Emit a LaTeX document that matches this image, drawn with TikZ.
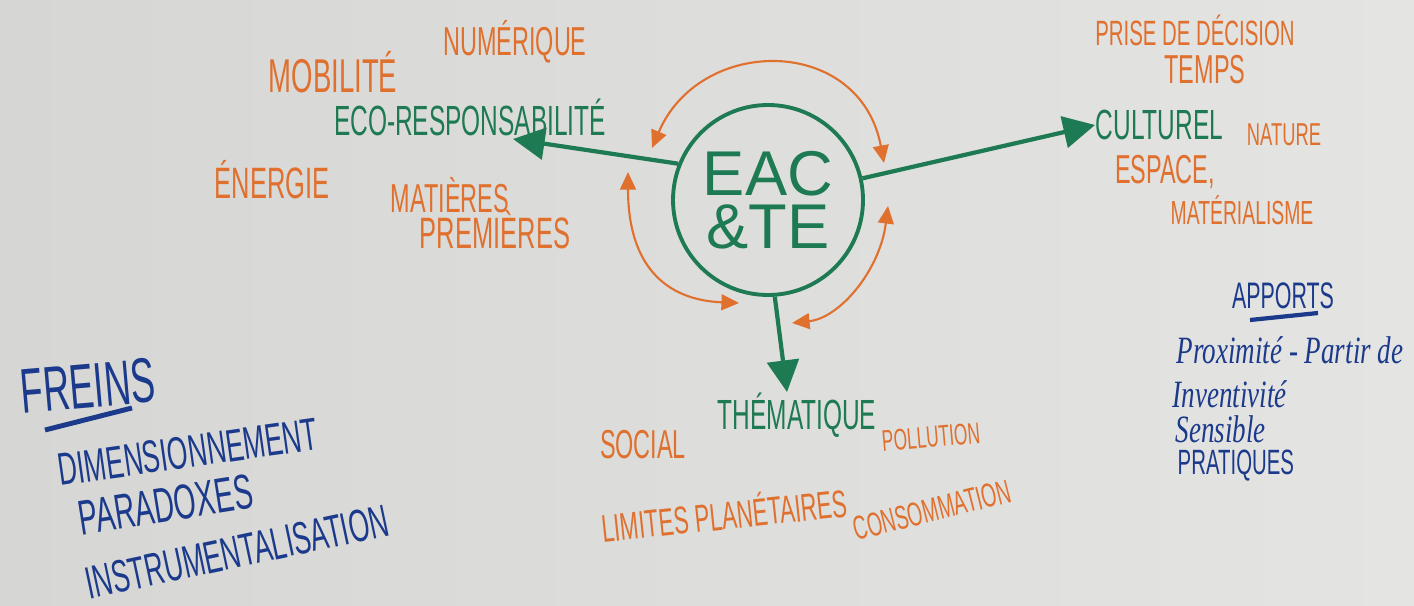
\documentclass[tikz,border=0pt]{standalone}
\usepackage{fontspec}
\setmainfont{Liberation Sans}
\newfontfamily\handfont[FakeStretch=0.58]{Liberation Sans}
\newfontfamily\inkfont[FakeStretch=0.7]{Liberation Serif}
\usetikzlibrary{arrows.meta,positioning,calc}

\definecolor{boardL}{HTML}{D6D6D5}
\definecolor{boardR}{HTML}{E4E4E3}
\definecolor{mgreen}{HTML}{1E7A52}
\definecolor{morange}{HTML}{E0702E}
\definecolor{mblue}{HTML}{1C3A8C}

\tikzset{
  hub/.style={circle, draw=mgreen, line width=1.1pt, minimum size=19mm, align=center,
    text=mgreen, font=\fontsize{18}{15}\selectfont},
  branch/.style={font=\handfont\fontsize{12}{12}\selectfont, text=mgreen},
  topic/.style={font=\handfont\fontsize{11.5}{12}\selectfont, text=morange},
  brake/.style={font=\handfont\fontsize{13}{12}\selectfont, text=mblue},
  gain/.style={font=\inkfont\itshape\fontsize{11}{12}\selectfont, text=mblue},
  fs/.style={font=\handfont\fontsize{#1}{12}\selectfont},
  spoke/.style={draw=mgreen, line width=1.2pt, -{Triangle[length=9pt,width=9pt]}},
  backarc/.style={draw=morange, line width=0.6pt,
    {Triangle[length=5pt,width=4.5pt]}-{Triangle[length=5pt,width=4.5pt]}},
}

\begin{document}
\begin{tikzpicture}[x=0.1mm,y=-0.1mm]
\tikzstyle{every node}+=[inner sep=0pt]
\shade[left color=boardL, right color=boardR] (0,0) rectangle (1414,606);
\useasboundingbox (0,0) rectangle (1414,606);

\node[hub] (eac) at (768,200) {EAC\\\&TE};

\node[branch] (eco) at (470,117) {ECO-RESPONSABILITÉ};
\node[branch, anchor=west] (cult) at (1095,125) {CULTUREL};
\node[branch] (them) at (797,415) {THÉMATIQUE};

\node[topic, fs=13.5] (mob) at (333,72) {MOBILITÉ};
\node[topic] (num) at (515,42) {NUMÉRIQUE};
\node[topic, fs=12.5] (ener) at (272,180) {ÉNERGIE};
\node[topic] (mat) at (450,195) {MATIÈRES};
\node[topic, fs=12.5] (prem) at (495,230) {PREMIÈRES};

\node[topic, fs=10] (prise) at (1195,30) {PRISE DE DÉCISION};
\node[topic] (temps) at (1205,70) {TEMPS};
\node[topic, fs=9] (nat) at (1284,135) {NATURE};
\node[topic] (esp) at (1165,172) {ESPACE,};
\node[topic, fs=9.5] (mater) at (1242,210) {MATÉRIALISME};

\node[topic] (social) at (643,445) {SOCIAL};
\node[topic, fs=8.5, rotate=5] (poll) at (931,437) {POLLUTION};
\node[topic, fs=11, rotate=6] (lim) at (724,513) {LIMITES PLANÉTAIRES};
\node[topic, fs=9.5, rotate=14] (cons) at (932,510) {CONSOMMATION};

\node[brake, fs=18, rotate=5] (freins) at (88,386) {FREINS};
\draw[mblue, line width=1.4pt] (45,430) -- (132,408);
\node[brake, rotate=8] (dim) at (188,452) {DIMENSIONNEMENT};
\node[brake, fs=14, rotate=9] (para) at (166,505) {PARADOXES};
\node[brake, rotate=12] (instr) at (237,552) {INSTRUMENTALISATION};

\node[brake, fs=10.5] (apports) at (1283,296) {APPORTS};
\draw[mblue, line width=1.2pt] (1250,320) -- (1318,313);
\node[gain] (prox) at (1290,350) {Proximité - Partir de};
\node[gain, anchor=west] (inv) at (1172,394) {Inventivité};
\node[gain, anchor=west] (sens) at (1175,429) {Sensible};
\node[brake, fs=10, anchor=west] (prat) at (1177,466) {PRATIQUES};

\coordinate (tipEco) at (513,139);
\draw[spoke] (eac.158) -- (tipEco);
\draw[spoke] (eac) -- (cult.west);
\draw[spoke] (eac.-86) -- ($(them.north)+(-10,0)$);

\coordinate (ul) at (652,148);
\coordinate (ur) at (884,163);
\coordinate (ml) at (628,172);
\coordinate (bl) at (739,303);
\coordinate (mr) at (888,206);
\coordinate (br) at (792,323);
\draw[backarc] (ul) .. controls (700,35) and (860,35) .. (ur);
\draw[backarc] (ml) .. controls (628,265) and (665,300) .. (bl);
\draw[backarc] (mr) .. controls (880,270) and (840,318) .. (br);
\end{tikzpicture}
\end{document}
